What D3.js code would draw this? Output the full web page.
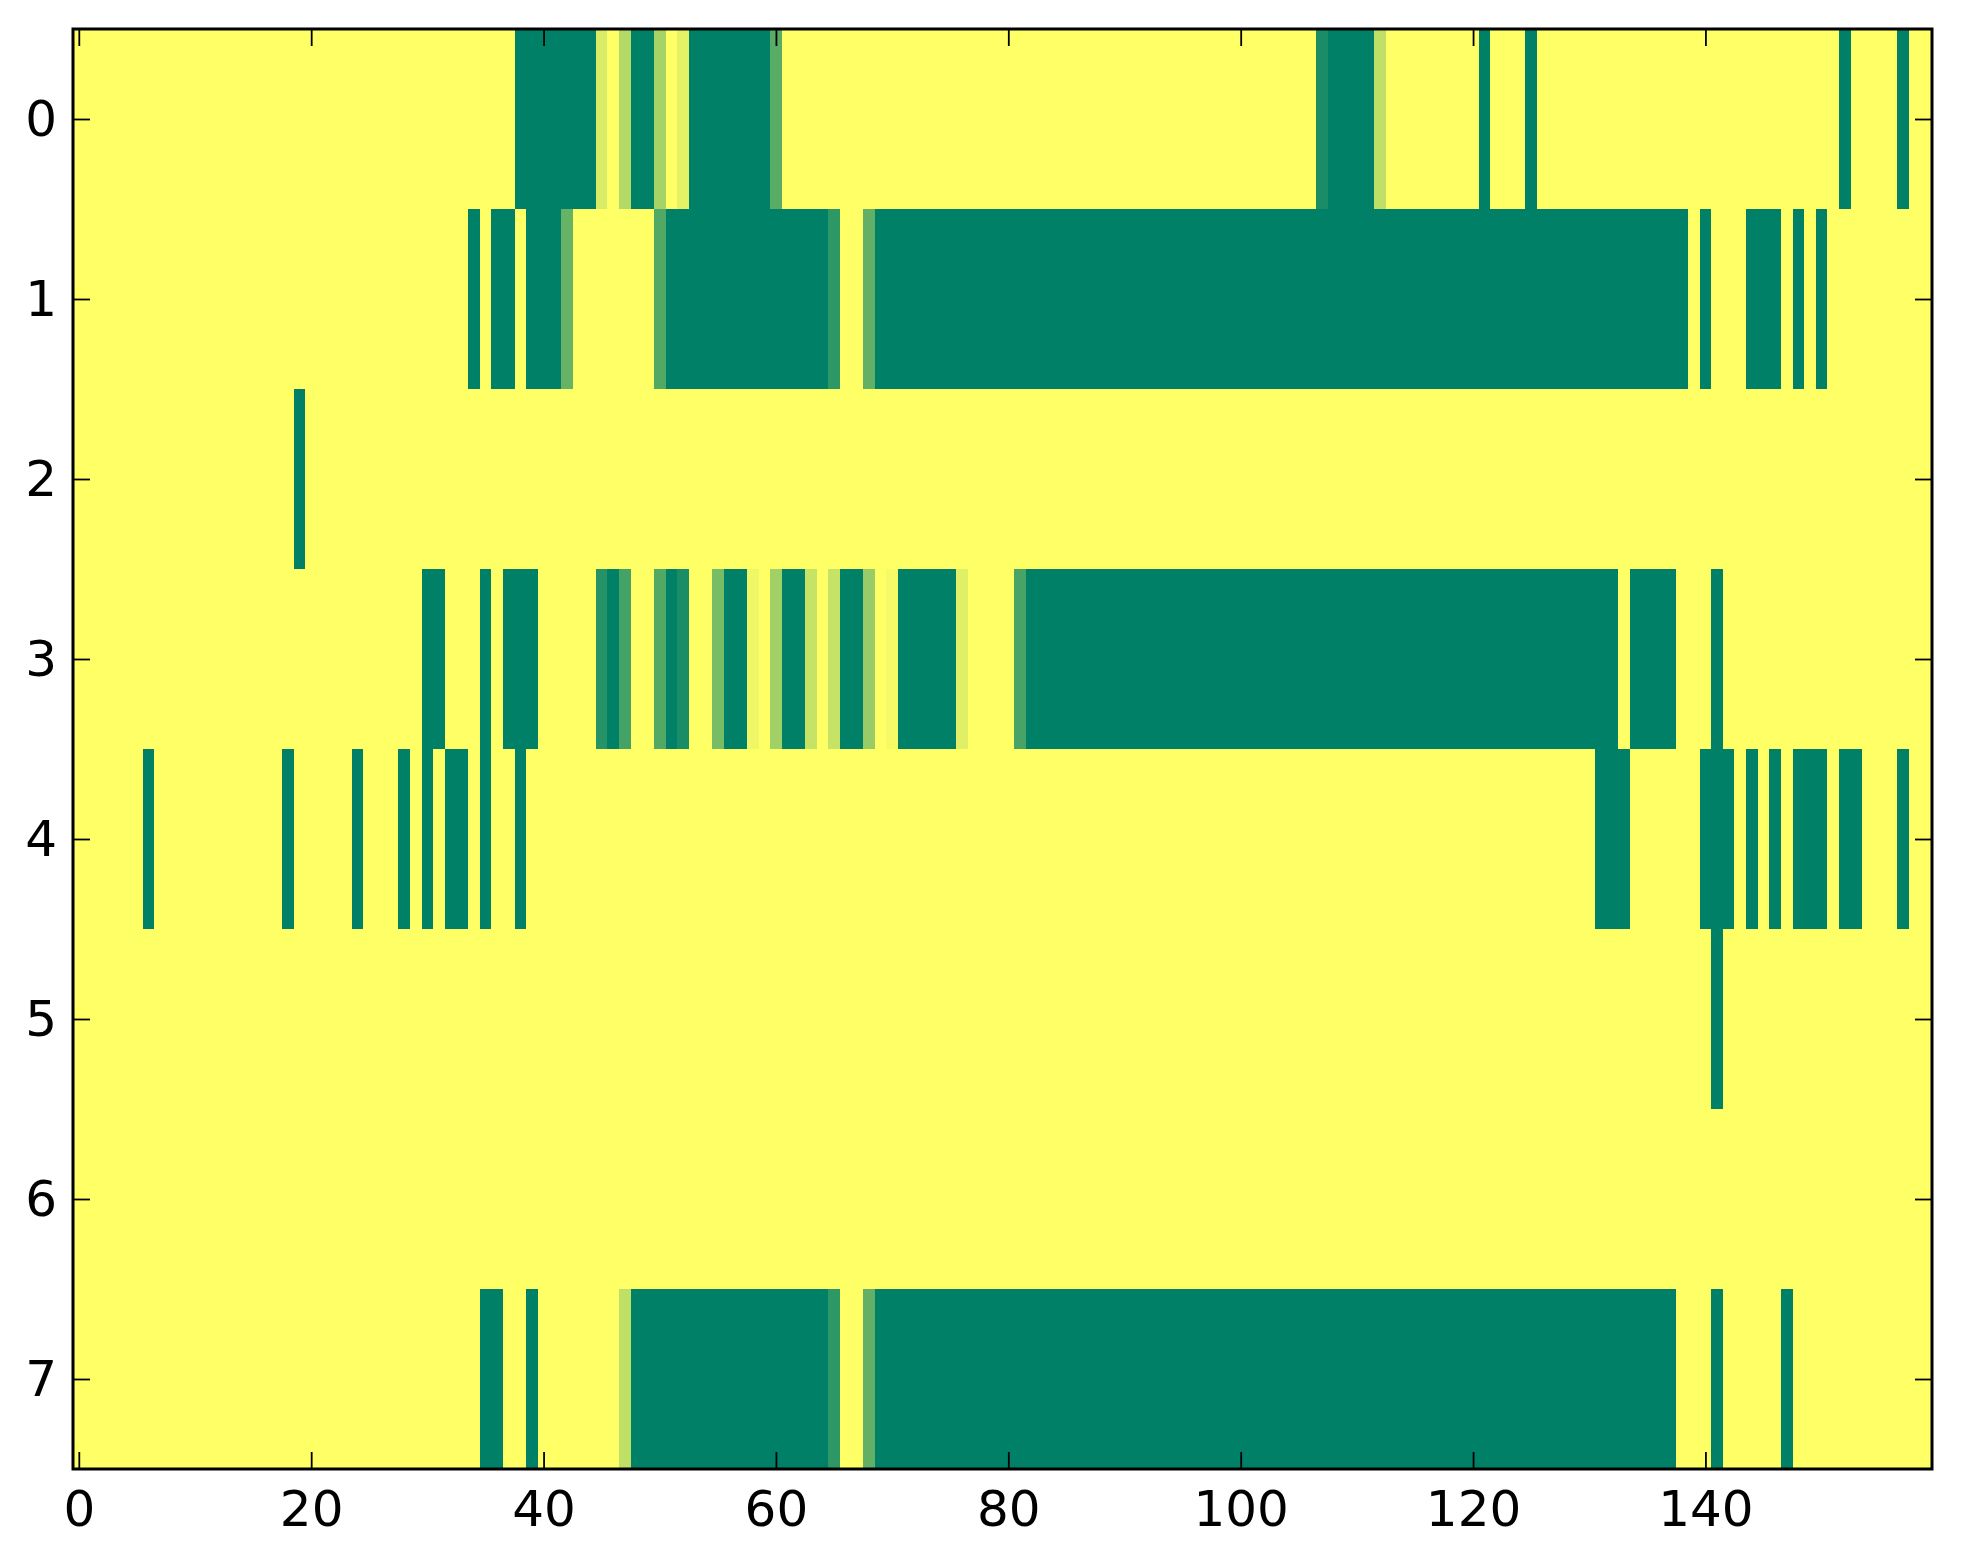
<!DOCTYPE html>
<html>
<head>
<meta charset="utf-8">
<script src="https://cdn.jsdelivr.net/npm/d3@7"></script>
<style>
  html, body { margin: 0; padding: 0; background: #ffffff; }
  svg { display: block; }
</style>
</head>
<body>
<div id="chart"></div>
<script>
// ---- data ----
const rowLabels = [0, 1, 2, 3, 4, 5, 6, 7];
const xTickValues = [0, 20, 40, 60, 80, 100, 120, 140];

const row0 = [
  1,1,1,1,1,1,1,1,1,1, 1,1,1,1,1,1,1,1,1,1,
  1,1,1,1,1,1,1,1,1,1, 1,1,1,1,1,1,1,1,0,0,
  0,0,0,0,0,0.85,1,0.7,0,0, 0.65,1,0.9,0,0,0,0,0,0,0,
  0.35,1,1,1,1,1,1,1,1,1, 1,1,1,1,1,1,1,1,1,1,
  1,1,1,1,1,1,1,1,1,1, 1,1,1,1,1,1,1,1,1,1,
  1,1,1,1,1,1,1,0.1,0,0, 0,0,0.75,1,1,1,1,1,1,1,
  1,0,1,1,1,0,1,1,1,1, 1,1,1,1,1,1,1,1,1,1,
  1,1,1,1,1,1,1,1,1,1, 1,1,0,1,1,1,1,0,1,1
];
const row1 = [
  1,1,1,1,1,1,1,1,1,1, 1,1,1,1,1,1,1,1,1,1,
  1,1,1,1,1,1,1,1,1,1, 1,1,1,1,0,1,0,0,1,0,
  0,0,0.4,1,1,1,1,1,1,1, 0.32,0,0,0,0,0,0,0,0,0,
  0,0,0,0,0,0.18,1,1,0.38,0, 0,0,0,0,0,0,0,0,0,0,
  0,0,0,0,0,0,0,0,0,0, 0,0,0,0,0,0,0,0,0,0,
  0,0,0,0,0,0,0,0,0,0, 0,0,0,0,0,0,0,0,0,0,
  0,0,0,0,0,0,0,0,0,0, 0,0,0,0,0,0,0,0,0,1,
  0,1,1,1,0,0,0,1,0,1, 0,1,1,1,1,1,1,1,1,1
];
const row2 = [
  1,1,1,1,1,1,1,1,1,1, 1,1,1,1,1,1,1,1,1,0,
  1,1,1,1,1,1,1,1,1,1, 1,1,1,1,1,1,1,1,1,1,
  1,1,1,1,1,1,1,1,1,1, 1,1,1,1,1,1,1,1,1,1,
  1,1,1,1,1,1,1,1,1,1, 1,1,1,1,1,1,1,1,1,1,
  1,1,1,1,1,1,1,1,1,1, 1,1,1,1,1,1,1,1,1,1,
  1,1,1,1,1,1,1,1,1,1, 1,1,1,1,1,1,1,1,1,1,
  1,1,1,1,1,1,1,1,1,1, 1,1,1,1,1,1,1,1,1,1,
  1,1,1,1,1,1,1,1,1,1, 1,1,1,1,1,1,1,1,1,1
];
const row3 = [
  1,1,1,1,1,1,1,1,1,1, 1,1,1,1,1,1,1,1,1,1,
  1,1,1,1,1,1,1,1,1,1, 0,0,1,1,1,0,1,0,0,0,
  1,1,1,1,1,0.15,0,0.27,1,1, 0.32,0,0.1,1,1,0.47,0,0,0.94,1,
  0.63,0,0,0.78,1,0.78,0,0,0.6,1, 0.96,0,0,0,0,0,0.88,1,1,1,
  1,0.28,0,0,0,0,0,0,0,0, 0,0,0,0,0,0,0,0,0,0,
  0,0,0,0,0,0,0,0,0,0, 0,0,0,0,0,0,0,0,0,0,
  0,0,0,0,0,0,0,0,0,0, 0,0,0,1,0,0,0,0,1,1,
  1,0,1,1,1,1,1,1,1,1, 1,1,1,1,1,1,1,1,1,1
];
const row4 = [
  1,1,1,1,1,1,0,1,1,1, 1,1,1,1,1,1,1,1,0,1,
  1,1,1,1,0,1,1,1,0,1, 0,1,0,0,1,0,1,1,0,1,
  1,1,1,1,1,1,1,1,1,1, 1,1,1,1,1,1,1,1,1,1,
  1,1,1,1,1,1,1,1,1,1, 1,1,1,1,1,1,1,1,1,1,
  1,1,1,1,1,1,1,1,1,1, 1,1,1,1,1,1,1,1,1,1,
  1,1,1,1,1,1,1,1,1,1, 1,1,1,1,1,1,1,1,1,1,
  1,1,1,1,1,1,1,1,1,1, 1,0,0,0,1,1,1,1,1,1,
  0,0,0,1,0,1,0,1,0,0, 0,1,0,0,1,1,1,0,1,1
];
const row5 = [
  1,1,1,1,1,1,1,1,1,1, 1,1,1,1,1,1,1,1,1,1,
  1,1,1,1,1,1,1,1,1,1, 1,1,1,1,1,1,1,1,1,1,
  1,1,1,1,1,1,1,1,1,1, 1,1,1,1,1,1,1,1,1,1,
  1,1,1,1,1,1,1,1,1,1, 1,1,1,1,1,1,1,1,1,1,
  1,1,1,1,1,1,1,1,1,1, 1,1,1,1,1,1,1,1,1,1,
  1,1,1,1,1,1,1,1,1,1, 1,1,1,1,1,1,1,1,1,1,
  1,1,1,1,1,1,1,1,1,1, 1,1,1,1,1,1,1,1,1,1,
  1,0,1,1,1,1,1,1,1,1, 1,1,1,1,1,1,1,1,1,1
];
const row6 = [
  1,1,1,1,1,1,1,1,1,1, 1,1,1,1,1,1,1,1,1,1,
  1,1,1,1,1,1,1,1,1,1, 1,1,1,1,1,1,1,1,1,1,
  1,1,1,1,1,1,1,1,1,1, 1,1,1,1,1,1,1,1,1,1,
  1,1,1,1,1,1,1,1,1,1, 1,1,1,1,1,1,1,1,1,1,
  1,1,1,1,1,1,1,1,1,1, 1,1,1,1,1,1,1,1,1,1,
  1,1,1,1,1,1,1,1,1,1, 1,1,1,1,1,1,1,1,1,1,
  1,1,1,1,1,1,1,1,1,1, 1,1,1,1,1,1,1,1,1,1,
  1,1,1,1,1,1,1,1,1,1, 1,1,1,1,1,1,1,1,1,1
];
const row7 = [
  1,1,1,1,1,1,1,1,1,1, 1,1,1,1,1,1,1,1,1,1,
  1,1,1,1,1,1,1,1,1,1, 1,1,1,1,1,0,0,1,1,0,
  1,1,1,1,1,1,1,0.75,0,0, 0,0,0,0,0,0,0,0,0,0,
  0,0,0,0,0,0.18,1,1,0.38,0, 0,0,0,0,0,0,0,0,0,0,
  0,0,0,0,0,0,0,0,0,0, 0,0,0,0,0,0,0,0,0,0,
  0,0,0,0,0,0,0,0,0,0, 0,0,0,0,0,0,0,0,0,0,
  0,0,0,0,0,0,0,0,0,0, 0,0,0,0,0,0,0,0,1,1,
  1,0,1,1,1,1,1,0,1,1, 1,1,1,1,1,1,1,1,1,1
];
const rows = [row0, row1, row2, row3, row4, row5, row6, row7];

// ---- layout ----
const W = 1963, H = 1564;
const plotLeft = 73, plotRight = 1932, plotTop = 29, plotBottom = 1469;
const nCols = row0.length;

const svg = d3.select("#chart").append("svg")
  .attr("width", W).attr("height", H)
  .style("background", "#ffffff");

const x = d3.scaleLinear().domain([-0.5, nCols - 0.5]).range([plotLeft, plotRight]);
const y = d3.scaleLinear().domain([-0.5, rowLabels.length - 0.5]).range([plotTop, plotBottom]);
// matplotlib "summer" colormap
const color = d3.scaleLinear().domain([0, 1])
  .range(["rgb(0,128,102)", "rgb(255,255,102)"])
  .interpolate(d3.interpolateRgb);

const cells = [];
rows.forEach((r, ri) => r.forEach((v, ci) => cells.push({ r: ri, c: ci, v: v })));

svg.append("g").selectAll("rect").data(cells).join("rect")
  .attr("x", d => x(d.c - 0.5))
  .attr("y", d => y(d.r - 0.5))
  .attr("width", d => x(d.c + 0.5) - x(d.c - 0.5) + 0.4)
  .attr("height", d => y(d.r + 0.5) - y(d.r - 0.5) + 0.4)
  .attr("fill", d => color(d.v))
  .attr("shape-rendering", "crispEdges");

// ---- axes ----
const fontFamily = "'DejaVu Sans', sans-serif";
const tickLen = 17;

function styleAxis(g) {
  g.select(".domain").remove();
  g.selectAll(".tick line").attr("stroke", "#000").attr("stroke-width", 1.8);
  g.selectAll(".tick text")
    .attr("fill", "#000")
    .attr("font-family", fontFamily)
    .style("font-family", fontFamily)
    .style("font-size", "50px");
}

svg.append("g")
  .attr("transform", `translate(0,${plotBottom})`)
  .call(d3.axisBottom(x).tickValues(xTickValues).tickSizeInner(-tickLen).tickSizeOuter(0).tickPadding(21))
  .call(styleAxis);

svg.append("g")
  .attr("transform", `translate(0,${plotTop})`)
  .call(d3.axisTop(x).tickValues(xTickValues).tickSizeInner(-tickLen).tickSizeOuter(0).tickFormat(""))
  .call(styleAxis);

svg.append("g")
  .attr("transform", `translate(${plotLeft},0)`)
  .call(d3.axisLeft(y).tickValues(rowLabels).tickSizeInner(-tickLen).tickSizeOuter(0).tickPadding(16))
  .call(styleAxis);

svg.append("g")
  .attr("transform", `translate(${plotRight},0)`)
  .call(d3.axisRight(y).tickValues(rowLabels).tickSizeInner(-tickLen).tickSizeOuter(0).tickFormat(""))
  .call(styleAxis);

// frame
svg.append("rect")
  .attr("x", plotLeft).attr("y", plotTop)
  .attr("width", plotRight - plotLeft).attr("height", plotBottom - plotTop)
  .attr("fill", "none").attr("stroke", "#000").attr("stroke-width", 3);
</script>
</body>
</html>
